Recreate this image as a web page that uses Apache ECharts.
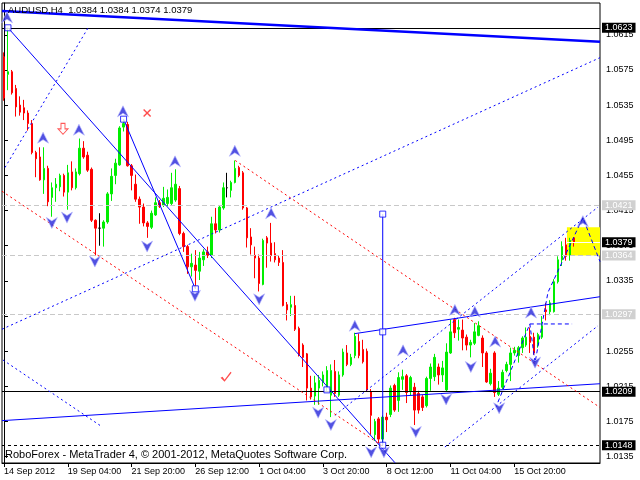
<!DOCTYPE html>
<html><head><meta charset="utf-8">
<script src="https://cdn.jsdelivr.net/npm/echarts@6/dist/echarts.min.js"></script>
<style>html,body{margin:0;padding:0;background:#fff}#c{width:640px;height:480px}</style>
</head><body><div id="c"></div>
<script>
// ---------- data ----------
const symbolName = 'AUDUSD,H4';
const lastQuote = [1.0384, 1.0384, 1.0374, 1.0379];
const tickLabels = ['14 Sep 2012','19 Sep 04:00','21 Sep 20:00','26 Sep 12:00','1 Oct 04:00','3 Oct 20:00','8 Oct 12:00','11 Oct 04:00','15 Oct 20:00'];
const yTicks = [1.0135,1.0175,1.0215,1.0255,1.0295,1.0335,1.0375,1.0415,1.0455,1.0495,1.0535,1.0575,1.0615];
const copyright = 'RoboForex - MetaTrader 4, \u00A9 2001-2012, MetaQuotes Software Corp.';

const opens = [1.0590,1.0570,1.0573,1.0554,1.0535,1.0532,1.0526,1.0514,1.0481,1.0476,1.0450,1.0463,1.0430,1.0441,1.0442,1.0455,1.0436,1.0459,1.0441,1.0457,1.0486,1.0478,1.0462,1.0404,1.0395,1.0395,1.0402,1.0434,1.0455,1.0467,1.0510,1.0513,1.0466,1.0445,1.0428,1.0419,1.0401,1.0396,1.0410,1.0424,1.0421,1.0423,1.0423,1.0427,1.0440,1.0389,1.0374,1.0351,1.0353,1.0346,1.0359,1.0368,1.0364,1.0400,1.0393,1.0418,1.0441,1.0438,1.0447,1.0464,1.0458,1.0418,1.0385,1.0364,1.0361,1.0331,1.0384,1.0378,1.0366,1.0361,1.0356,1.0308,1.0305,1.0307,1.0281,1.0262,1.0252,1.0213,1.0204,1.0213,1.0220,1.0214,1.0205,1.0232,1.0205,1.0228,1.0253,1.0240,1.0250,1.0266,1.0257,1.0255,1.0209,1.0160,1.0178,1.0155,1.0180,1.0183,1.0216,1.0199,1.0223,1.0227,1.0210,1.0214,1.0207,1.0203,1.0193,1.0224,1.0226,1.0237,1.0228,1.0211,1.0253,1.0291,1.0280,1.0279,1.0271,1.0262,1.0264,1.0273,1.0270,1.0253,1.0218,1.0253,1.0206,1.0214,1.0233,1.0240,1.0253,1.0250,1.0259,1.0262,1.0272,1.0271,1.0263,1.0271,1.0302,1.0300,1.0300,1.0334,1.0359,1.0376,1.0364,1.0384];
const closes = [1.0543,1.0573,1.0549,1.0533,1.0527,1.0526,1.0514,1.0481,1.0474,1.0450,1.0463,1.0425,1.0441,1.0445,1.0455,1.0436,1.0458,1.0441,1.0459,1.0486,1.0476,1.0461,1.0404,1.0395,1.0395,1.0402,1.0434,1.0454,1.0469,1.0509,1.0514,1.0466,1.0455,1.0428,1.0419,1.0401,1.0397,1.0412,1.0424,1.0420,1.0429,1.0430,1.0441,1.0445,1.0389,1.0374,1.0351,1.0355,1.0347,1.0361,1.0368,1.0364,1.0400,1.0393,1.0419,1.0441,1.0441,1.0447,1.0463,1.0455,1.0418,1.0384,1.0376,1.0361,1.0332,1.0381,1.0378,1.0364,1.0359,1.0356,1.0307,1.0302,1.0308,1.0280,1.0251,1.0248,1.0213,1.0203,1.0219,1.0222,1.0228,1.0233,1.0233,1.0207,1.0228,1.0254,1.0240,1.0248,1.0272,1.0250,1.0243,1.0211,1.0182,1.0175,1.0155,1.0180,1.0177,1.0213,1.0188,1.0225,1.0226,1.0208,1.0225,1.0188,1.0188,1.0191,1.0224,1.0237,1.0248,1.0228,1.0236,1.0254,1.0277,1.0276,1.0282,1.0270,1.0262,1.0265,1.0277,1.0284,1.0253,1.0220,1.0230,1.0208,1.0213,1.0231,1.0240,1.0253,1.0256,1.0259,1.0270,1.0271,1.0265,1.0253,1.0274,1.0284,1.0300,1.0310,1.0334,1.0359,1.0374,1.0363,1.0381,1.0379];
const highs = [1.0595,1.0623,1.0575,1.0558,1.0545,1.0541,1.0529,1.0518,1.0483,1.0487,1.0487,1.0466,1.0447,1.0452,1.0457,1.0457,1.0467,1.0471,1.0463,1.0497,1.0494,1.0482,1.0464,1.0405,1.0412,1.0404,1.0436,1.0463,1.0474,1.0511,1.0519,1.0516,1.0468,1.0456,1.0431,1.0423,1.0403,1.0415,1.0430,1.0427,1.0442,1.0439,1.0458,1.0462,1.0443,1.0391,1.0376,1.0366,1.0370,1.0368,1.0371,1.0374,1.0408,1.0418,1.0421,1.0447,1.0458,1.0449,1.0472,1.0466,1.0460,1.0419,1.0395,1.0374,1.0365,1.0383,1.0386,1.0401,1.0379,1.0364,1.0370,1.0311,1.0318,1.0318,1.0283,1.0264,1.0253,1.0227,1.0227,1.0228,1.0232,1.0238,1.0240,1.0245,1.0232,1.0258,1.0262,1.0252,1.0276,1.0275,1.0268,1.0258,1.0212,1.0178,1.0180,1.0182,1.0185,1.0216,1.0218,1.0231,1.0234,1.0229,1.0227,1.0219,1.0210,1.0205,1.0226,1.0241,1.0252,1.0241,1.0244,1.0264,1.0291,1.0293,1.0291,1.0291,1.0274,1.0268,1.0287,1.0289,1.0273,1.0255,1.0235,1.0255,1.0221,1.0234,1.0243,1.0259,1.0260,1.0261,1.0272,1.0282,1.0282,1.0276,1.0276,1.0295,1.0310,1.0313,1.0337,1.0363,1.0380,1.0384,1.0384,1.0384];
const lows = [1.0540,1.0552,1.0547,1.0522,1.0523,1.0518,1.0506,1.0479,1.0453,1.0449,1.0434,1.0420,1.0408,1.0425,1.0437,1.0431,1.0416,1.0438,1.0439,1.0455,1.0474,1.0459,1.0402,1.0364,1.0375,1.0374,1.0400,1.0426,1.0445,1.0466,1.0505,1.0465,1.0438,1.0425,1.0400,1.0397,1.0384,1.0394,1.0409,1.0418,1.0419,1.0420,1.0421,1.0425,1.0387,1.0368,1.0343,1.0340,1.0326,1.0336,1.0352,1.0361,1.0361,1.0389,1.0390,1.0416,1.0430,1.0430,1.0446,1.0453,1.0416,1.0373,1.0365,1.0338,1.0323,1.0330,1.0350,1.0357,1.0356,1.0352,1.0306,1.0290,1.0295,1.0278,1.0249,1.0237,1.0199,1.0200,1.0194,1.0194,1.0215,1.0210,1.0180,1.0203,1.0203,1.0226,1.0238,1.0238,1.0247,1.0247,1.0241,1.0209,1.0160,1.0153,1.0150,1.0148,1.0163,1.0180,1.0186,1.0186,1.0211,1.0196,1.0205,1.0171,1.0184,1.0187,1.0191,1.0210,1.0221,1.0217,1.0220,1.0209,1.0252,1.0270,1.0267,1.0256,1.0256,1.0248,1.0262,1.0272,1.0237,1.0219,1.0216,1.0203,1.0204,1.0212,1.0231,1.0221,1.0250,1.0242,1.0253,1.0260,1.0253,1.0251,1.0259,1.0269,1.0290,1.0296,1.0299,1.0332,1.0352,1.0358,1.0358,1.0374];

// analysis objects, in [bar index, price]
const thickTrend = [[-0.5, 1.0642], [149.5, 1.0607]];
const blueSolidLines = [
  [[1, 1.0623], [98.1, 1.0128]],
  [[30, 1.0519], [48, 1.0326]],
  [[95, 1.0411], [95, 1.0148]],
  [[88, 1.0275], [149.5, 1.0317]],
  [[-0.5, 1.0176], [149.5, 1.0218]]
];
const blueDottedLines = [
  [[-0.5, 1.0280], [149.5, 1.0589]],
  [[0.25, 1.0464], [21.1, 1.0623]],
  [[-0.25, 1.0245], [24.6, 1.0169]],
  [[83, 1.0182], [149, 1.0419]],
  [[110.6, 1.0146], [149, 1.0284]]
];
const redDottedLines = [
  [[-0.5, 1.0437], [95, 1.0147]],
  [[58, 1.0472], [149.5, 1.0191]]
];
const forecastPath = [[123.9, 1.0197], [131.9, 1.0286], [133.2, 1.0242], [136.45, 1.0322], [145.2, 1.0407], [149.5, 1.0357]];
const forecastLevel = [[131.9, 1.0286], [142.5, 1.0286]];
const upFractals = [[0.75,1.0635],[9.8,1.0498],[18.8,1.0507],[29.85,1.0528],[42.9,1.0471],[57.9,1.0483],[67,1.0412],[88,1.0284],[100.1,1.0256],[113.1,1.0302],[118.1,1.0300],[123.2,1.0266],[132.2,1.0299],[145.2,1.0403]];
const downFractals = [[12,1.0401],[15.8,1.0407],[22.8,1.0357],[35.9,1.0374],[47.9,1.0318],[64,1.0314],[78.8,1.0185],[82,1.0171],[92.1,1.0140],[95.3,1.0140],[103.3,1.0163],[110.9,1.0200],[117.1,1.0237],[124.2,1.0190],[133.2,1.0242]];
const anchorSquares = [[1,1.0623],[30,1.0519],[48,1.0326],[95,1.0411],[95,1.0277],[95,1.0148],[81,1.0211]];
const redArrowMarks = [[14.8, 1.0508]];
const redCrossMarks = [[35.9, 1.0526]];
const redCheckMarks = [[55.7, 1.0226]];
const blackLevels = [1.0623, 1.0209];
const dashedBlackLevels = [1.0148];
const grayLevels = [1.0421, 1.0364, 1.0297];
const targetZone = {from: 141.2, low: 1.0364, high: 1.0396};

// ---------- layout ----------
const slotCount = 150;
const yMin = 1.01278, yMax = 1.06512;
const FONT = 'Liberation Sans';

const catData = Array.from({length: slotCount}, (_, i) => String(i));
const candleData = opens.map((o, i) => [o, closes[i], lows[i], highs[i]]);
const showTick = (i) => i % 16 === 0 && (i / 16) < tickLabels.length;

function lineSeries(points, color, width, type, z) {
  return {type: 'line', xAxisIndex: 1, yAxisIndex: 0, data: points, symbol: 'none', silent: true,
    animation: false, z: z || 5, lineStyle: {color: color, width: width, type: type}};
}
function markSeries(points, symbol, size, itemStyle, z) {
  return {type: 'scatter', xAxisIndex: 1, yAxisIndex: 0, data: points, symbol: symbol, symbolSize: size,
    itemStyle: itemStyle, silent: true, animation: false, z: z || 6};
}
function levelLabel(v, bg) {
  return {show: true, position: 'end', distance: 2, formatter: v.toFixed(4), color: '#fff',
    backgroundColor: bg, padding: [1, 3, 0, 3], fontSize: 9, fontFamily: FONT};
}

const series = [];
series.push({type: 'line', xAxisIndex: 1, yAxisIndex: 0, data: [], z: 1, silent: true, animation: false,
  markArea: {silent: true, itemStyle: {color: '#ffff00'},
    data: [[{coord: [targetZone.from, targetZone.high]}, {coord: [slotCount - 0.5, targetZone.low]}]]}});
series.push({type: 'candlestick', xAxisIndex: 0, yAxisIndex: 0, data: candleData, barWidth: 2, z: 3,
  silent: true, animation: false,
  itemStyle: {color: '#00ee00', color0: '#ff0000', borderColor: '#00ee00', borderColor0: '#ff0000',
    borderColorDoji: '#000000', borderWidth: 1}});

const levelData = [];
grayLevels.forEach(v => levelData.push({yAxis: v, lineStyle: {color: '#c8c8c8', width: 1, type: [5, 3]}, label: levelLabel(v, '#d0d0d0')}));
blackLevels.forEach(v => levelData.push({yAxis: v, lineStyle: {color: '#000', width: 1, type: 'solid'}, label: levelLabel(v, '#000')}));
dashedBlackLevels.forEach(v => levelData.push({yAxis: v, lineStyle: {color: '#000', width: 1, type: [3, 3]}, label: levelLabel(v, '#000')}));
levelData.push([{coord: [targetZone.from, lastQuote[3]], lineStyle: {color: '#fff', width: 1, type: 'solid'}, label: levelLabel(lastQuote[3], '#000')},
  {coord: [slotCount - 0.5, lastQuote[3]]}]);
series.push({type: 'line', xAxisIndex: 1, yAxisIndex: 0, data: [], z: 4, silent: true, animation: false,
  markLine: {symbol: ['none', 'none'], precision: 4, silent: true, animation: false, data: levelData}});

series.push(lineSeries(thickTrend, '#0000ff', 2.5, 'solid', 5));
blueSolidLines.forEach(l => series.push(lineSeries(l, '#0000ff', 1, 'solid', 5)));
blueDottedLines.forEach(l => series.push(lineSeries(l, '#0000ff', 1, [2, 3], 5)));
redDottedLines.forEach(l => series.push(lineSeries(l, '#ff0000', 1, [2, 3], 5)));
series.push(lineSeries(forecastPath, '#0000ff', 1, [4, 3], 5));
series.push(lineSeries(forecastLevel, '#0000ff', 1, [4, 3], 5));

const fractalStyle = {color: '#2626d9', borderColor: '#b8b8ff', borderWidth: 0.8};
series.push(markSeries(upFractals, 'path://M5,0 L10,11 L5,7.5 L0,11 Z', [11, 11], fractalStyle, 7));
series.push(markSeries(downFractals, 'path://M0,0 L5,3.5 L10,0 L5,11 Z', [11, 11], fractalStyle, 7));
series.push(markSeries(anchorSquares, 'rect', 6, {color: '#ffffff', borderColor: '#0000ff', borderWidth: 1}, 8));
series.push(markSeries(redArrowMarks, 'path://M3,0 L7,0 L7,5 L10,5 L5,10 L0,5 L3,5 Z', [10, 11], {color: '#ffffff', borderColor: '#ff3030', borderWidth: 1}, 7));
series.push(markSeries(redCrossMarks, 'path://M0,1 L1,0 L4,3 L7,0 L8,1 L5,4 L8,7 L7,8 L4,5 L1,8 L0,7 L3,4 Z', [8, 8], {color: '#ff2020'}, 7));
series.push(markSeries(redCheckMarks, 'path://M0,6 L2,5 L4,8 L10,0 L11,1 L4,10 Z', [11, 10], {color: '#ff2020'}, 7));

const option = {
  backgroundColor: '#ffffff',
  animation: false,
  grid: {left: 2, right: 40, top: 3, bottom: 17, show: true, borderColor: '#000', borderWidth: 1,
    backgroundColor: '#ffffff', containLabel: false, outerBoundsMode: 'none'},
  xAxis: [
    {type: 'category', data: catData, gridIndex: 0, boundaryGap: true,
      axisLine: {show: true, lineStyle: {color: '#000', width: 1}},
      axisTick: {show: true, interval: showTick, alignWithLabel: true, length: 4, lineStyle: {color: '#000'}},
      axisLabel: {show: true, interval: showTick, formatter: (v, i) => tickLabels[i / 16] || '', align: 'left',
        margin: 4, fontSize: 9, color: '#000', fontFamily: FONT},
      splitLine: {show: false}},
    {type: 'value', min: -0.5, max: slotCount - 0.5, gridIndex: 0, show: false, splitLine: {show: false}}
  ],
  yAxis: [{type: 'value', position: 'right', min: yMin, max: yMax, gridIndex: 0,
    axisLine: {show: true, lineStyle: {color: '#000'}},
    axisTick: {show: true, customValues: yTicks, length: 4, lineStyle: {color: '#000'}},
    axisLabel: {show: true, customValues: yTicks, formatter: v => v.toFixed(4), margin: 6, fontSize: 9,
      color: '#000', fontFamily: FONT},
    splitLine: {show: false}}],
  graphic: [
    {type: 'text', left: 8, top: 5, z: 100,
      style: {text: symbolName + '  ' + lastQuote.map(v => v.toFixed(4)).join(' '), font: '9.5px "Liberation Sans"', fill: '#000'}},
    {type: 'text', left: 5, top: 449, z: 100,
      style: {text: copyright, font: '11px "Liberation Sans"', fill: '#000'}}
  ],
  series: series
};
const chart = echarts.init(document.getElementById('c'), null, {renderer: 'canvas'});
chart.setOption(option);
</script>
</body></html>
